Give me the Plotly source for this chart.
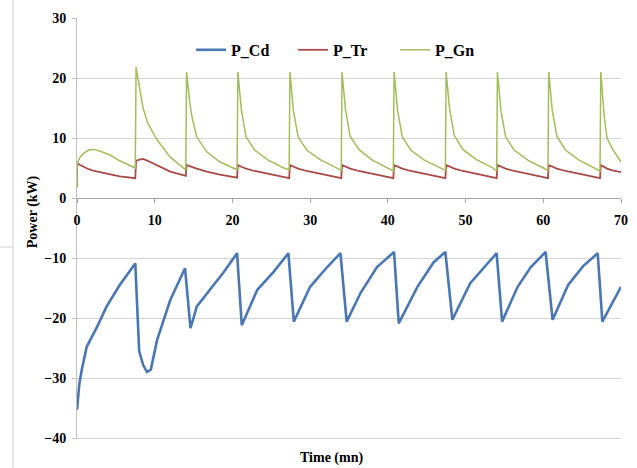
import plotly.graph_objects as go

# ---- data ----
series_names = ["P_Cd", "P_Tr", "P_Gn"]
x_ticks = [0, 10, 20, 30, 40, 50, 60, 70]
y_ticks = [-40, -30, -20, -10, 0, 10, 20, 30]
x_title = "Time (mn)"
y_title = "Power (kW)"

# time (min) for P_Tr and P_Gn
t_tr_gn = [
    0, 0.02, 0.4, 0.8, 1.5, 2.2, 3.0, 4.2, 5.5, 7.5,
    7.6, 8.0, 8.5, 9.1, 10.3, 12.0, 14.0,
    14.1, 14.5, 14.8, 15.4, 16.7, 18.4, 20.6,
    20.7, 21.15, 21.75, 22.85, 24.6, 26.6, 27.3,
    27.4, 27.85, 28.45, 29.55, 31.3, 33.3, 34.0,
    34.1, 34.55, 35.15, 36.25, 38.0, 40.0, 40.7,
    40.8, 41.25, 41.85, 42.95, 44.7, 46.7, 47.4,
    47.5, 47.95, 48.55, 49.65, 51.4, 53.4, 54.0,
    54.1, 54.55, 55.15, 56.25, 58.0, 60.0, 60.6,
    60.7, 61.15, 61.75, 62.85, 64.6, 66.6, 67.3,
    67.4, 67.85, 68.2, 68.9, 70.0,
]
p_gn = [
    1.8, 5.8, 6.8, 7.4, 8.0, 8.1, 7.8, 7.2, 6.2, 5.0,
    21.8, 18.5, 15.0, 12.5, 9.7, 6.8, 4.7,
    21.0, 16.0, 13.5, 10.2, 7.7, 6.0, 4.7,
    21.0, 14.7, 10.2, 8.0, 6.3, 5.0, 4.7,
    21.0, 14.5, 10.2, 8.0, 6.4, 5.1, 4.6,
    21.0, 14.7, 10.3, 8.1, 6.3, 5.0, 4.5,
    21.0, 14.6, 10.2, 8.0, 6.3, 5.0, 4.6,
    21.0, 14.8, 10.4, 8.1, 6.4, 5.1, 4.5,
    21.0, 14.6, 10.2, 8.0, 6.3, 5.0, 4.6,
    21.0, 14.7, 10.3, 8.0, 6.3, 5.0, 4.5,
    21.0, 13.5, 10.0, 8.2, 6.0,
]
p_tr = [
    1.8, 5.8, 5.5, 5.2, 4.8, 4.5, 4.3, 3.9, 3.6, 3.3,
    6.2, 6.4, 6.5, 6.2, 5.5, 4.4, 3.7,
    5.5, 5.3, 5.2, 4.9, 4.4, 3.9, 3.4,
    5.5, 5.2, 4.9, 4.5, 4.0, 3.5, 3.3,
    5.5, 5.2, 4.9, 4.5, 4.0, 3.5, 3.3,
    5.5, 5.2, 4.9, 4.5, 4.0, 3.5, 3.3,
    5.5, 5.2, 4.9, 4.5, 4.0, 3.5, 3.3,
    5.5, 5.2, 4.9, 4.5, 4.0, 3.5, 3.3,
    5.5, 5.2, 4.9, 4.5, 4.0, 3.5, 3.3,
    5.5, 5.2, 4.9, 4.5, 4.0, 3.5, 3.3,
    5.5, 5.2, 4.9, 4.6, 4.3,
]

# time (min) and values for P_Cd
t_cd = [
    0, 0.3, 0.6, 1.25, 2.5, 3.8, 5.5, 7.5,
    8.0, 8.5, 9.0, 9.5, 10.3, 12.0, 13.9,
    14.6, 15.0, 15.4, 17.1, 18.8, 20.6,
    21.2, 23.2, 25.3, 27.2,
    27.9, 30.0, 32.2, 33.9,
    34.7, 36.5, 38.6, 40.8,
    41.4, 43.8, 45.9, 47.4,
    48.3, 50.6, 52.4, 54.0,
    54.7, 56.7, 58.4, 60.3,
    61.2, 63.2, 65.1, 67.0,
    67.6, 70.0,
]
p_cd = [
    -35.3, -31.0, -28.7, -24.8, -21.7, -18.1, -14.5, -10.9,
    -25.5, -27.8, -29.0, -28.6, -23.7, -17.0, -11.7,
    -21.7, -20.0, -18.1, -15.3, -12.5, -9.2,
    -21.2, -15.3, -12.3, -9.2,
    -20.6, -14.8, -11.5, -9.2,
    -20.6, -15.8, -11.5, -9.0,
    -20.9, -14.8, -10.7, -9.0,
    -20.3, -14.2, -11.5, -9.2,
    -20.6, -14.8, -11.5, -9.0,
    -20.3, -14.5, -11.4, -9.2,
    -20.6, -14.8,
]
assert len(t_tr_gn) == len(p_gn) == len(p_tr)
assert len(t_cd) == len(p_cd)

colors = ["#4A77B4", "#A94A48", "#A3BD5C"]
widths = [2.6, 1.8, 1.5]

FONT = "Liberation Serif"
GRID = "#D4D4D4"

fig = go.Figure()
fig.add_trace(go.Scatter(x=t_cd, y=p_cd, mode="lines", name=series_names[0],
                         xaxis="x2", yaxis="y",
                         line=dict(color=colors[0], width=widths[0])))
fig.add_trace(go.Scatter(x=t_tr_gn, y=p_tr, mode="lines", name=series_names[1],
                         line=dict(color=colors[1], width=widths[1])))
fig.add_trace(go.Scatter(x=t_tr_gn, y=p_gn, mode="lines", name=series_names[2],
                         line=dict(color=colors[2], width=widths[2])))

tickfont = dict(family=FONT, size=14, color="black", weight="bold")
titlefont = dict(family=FONT, size=14, color="black", weight="bold")

fig.update_layout(
    width=637, height=468,
    margin=dict(l=77, r=16, t=18, b=30),
    paper_bgcolor="white", plot_bgcolor="white",
    showlegend=True,
    legend=dict(orientation="h", x=0.2097, xanchor="left", y=0.924, yanchor="middle",
                font=dict(family=FONT, size=16, color="black", weight="bold"),
                bgcolor="rgba(0,0,0,0)", entrywidth=57, entrywidthmode="pixels",
                itemwidth=30, traceorder="normal"),
    # bottom axis (frame line only)
    xaxis=dict(range=[0, 70], tickvals=x_ticks, showgrid=False, zeroline=False,
               showticklabels=False, ticks="", showline=True, linecolor=GRID,
               automargin=False),
    # axis crossing at y = 0 with the tick labels
    xaxis2=dict(overlaying="x", matches="x", range=[0, 70], tickvals=x_ticks,
                showgrid=False, zeroline=False, anchor="free", position=4 / 7,
                showline=True, linecolor="#A6A6A6", linewidth=1, ticks="outside",
                ticklen=4, tickcolor="#A6A6A6", tickfont=tickfont,
                ticklabelstandoff=5, automargin=False, ticklabeloverflow="allow"),
    yaxis=dict(range=[-40, 30], tickvals=y_ticks, showgrid=True, gridcolor=GRID,
               gridwidth=1, zeroline=False, showline=True, linecolor="#BFBFBF",
               linewidth=1, ticks="outside", ticklen=4, tickcolor="#BFBFBF",
               tickfont=tickfont, automargin=False, ticklabelstandoff=3),
    annotations=[
        dict(text=x_title, xref="paper", yref="paper", x=0.467, y=-0.0476,
             xanchor="center", yanchor="middle", showarrow=False, font=titlefont),
        dict(text=y_title, xref="paper", yref="paper", x=-0.0809, y=0.540,
             xanchor="center", yanchor="middle", showarrow=False, textangle=-90,
             font=titlefont),
    ],
    shapes=[
        dict(type="line", xref="paper", yref="paper", x0=-0.1176, x1=-0.1176,
             y0=-0.0714, y1=1.0429, line=dict(color="#D0D0D0", width=1)),
        dict(type="line", xref="paper", yref="paper", x0=-0.1415, x1=-0.1176,
             y0=0.4548, y1=0.4548, line=dict(color="#D0D0D0", width=1)),
    ],
)

fig.write_html("out.html", config={"displayModeBar": False},
               post_script="document.body.style.margin='0';")
